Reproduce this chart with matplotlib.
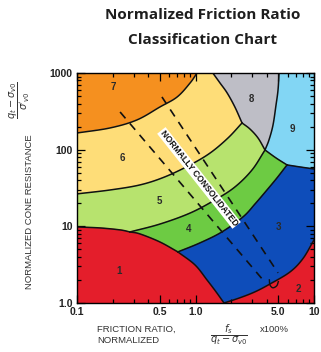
import matplotlib
matplotlib.use("Agg")
import matplotlib.pyplot as plt
import numpy as np

plt.rcParams.update({
    "font.family": "Liberation Sans",
    "font.size": 7,
    "axes.linewidth": 1.0,
    "mathtext.fontset": "dejavusans",
})

# ── zone boundaries (friction ratio %, normalized cone resistance) ────
b_7_6 = ([0.10, 0.19, 0.32, 0.50, 0.70, 0.90, 1.03], [165, 192, 244, 360, 487, 741, 1000])
b_6_8 = ([1.40, 1.61, 1.85, 2.15, 2.47], [1000, 741, 549, 360, 223])
b_8_9 = ([5.07, 4.97, 4.78, 4.51, 4.17, 3.86], [1000, 600, 382, 210, 134, 99])
b_6_5 = ([0.10, 0.19, 0.34, 0.55, 0.90, 1.33, 1.88, 2.47], [26.5, 29.8, 34.7, 44.1, 63.2, 90.6, 142, 223])
b_5_8 = ([2.47, 2.88, 3.37, 3.86], [223, 186, 142, 99])
b_5_4 = ([0.28, 0.50, 0.90, 1.46, 2.15, 3.00, 3.86], [8.45, 10.7, 14.9, 22.1, 32.6, 54.4, 99])
b_9_4 = ([3.86, 4.78, 5.92], [99, 78, 63.2])
b_9_3 = ([5.92, 7.62, 10.0], [63.2, 59.5, 56.0])
b_4_3 = ([5.92, 4.87, 4.01, 3.18, 2.52, 1.67, 1.09, 0.71], [63.2, 42.8, 29.8, 19.6, 13.3, 8.45, 6.08, 4.64])
b_5_1 = ([0.10, 0.156, 0.231, 0.28], [9.82, 9.53, 8.98, 8.45])
b_4_1 = ([0.28, 0.34, 0.50, 0.71], [8.45, 7.96, 6.26, 4.64])
b_1_3 = ([0.71, 0.99, 1.25, 1.49, 1.74], [4.64, 3.14, 2.00, 1.40, 1.00])
b_3_2 = ([1.74, 2.37, 3.18, 4.25, 6.27, 8.07, 10.0], [1.00, 1.17, 1.40, 1.77, 2.54, 3.80, 6.65])

# normally consolidated band (dashed) and its end loop
nc_left = ([0.231, 3.71], [310, 2.0])
nc_right = ([0.521, 4.97], [487, 2.47])
nc_loop = ([4.20, 4.25, 4.50, 4.85, 5.00], [2.00, 1.72, 1.58, 1.68, 1.90])

zone_ids = ["1", "2", "3", "4", "5", "6", "7", "8", "9"]
zone_fr = [0.226, 7.33, 4.97, 0.881, 0.492, 0.240, 0.201, 2.94, 6.52]
zone_qt = [2.62, 1.53, 9.82, 9.25, 21.4, 78.0, 657, 458, 186]

C_RED = "#E41E2B"
C_BLUE = "#0E4DBA"
C_GREEN4 = "#6DCB43"
C_GREEN5 = "#B7E36E"
C_YELLOW = "#FEDD78"
C_ORANGE = "#F5901F"
C_GREY = "#BEBEC6"
C_CYAN = "#82D6F4"


def smooth(curve, n=14):
    """Catmull-Rom through the points in log-log space."""
    pts = np.column_stack([np.log10(curve[0]), np.log10(curve[1])])
    if len(pts) < 3:
        return np.asarray(curve[0], float), np.asarray(curve[1], float)
    p = np.vstack([2 * pts[0] - pts[1], pts, 2 * pts[-1] - pts[-2]])
    t = np.linspace(0, 1, n, endpoint=False)[:, None]
    out = []
    for i in range(1, len(p) - 2):
        p0, p1, p2, p3 = p[i - 1], p[i], p[i + 1], p[i + 2]
        out.append(0.5 * (2 * p1 + (-p0 + p2) * t
                          + (2 * p0 - 5 * p1 + 4 * p2 - p3) * t ** 2
                          + (-p0 + 3 * p1 - 3 * p2 + p3) * t ** 3))
    out.append(pts[-1:])
    out = np.vstack(out)
    return 10 ** out[:, 0], 10 ** out[:, 1]


def rev(c):
    return c[0][::-1], c[1][::-1]


def cat(*parts):
    xs = np.concatenate([np.atleast_1d(p[0]) for p in parts])
    ys = np.concatenate([np.atleast_1d(p[1]) for p in parts])
    return xs, ys


s76, s68, s89, s65 = smooth(b_7_6), smooth(b_6_8), smooth(b_8_9), smooth(b_6_5)
s58, s54, s94, s93 = smooth(b_5_8), smooth(b_5_4), smooth(b_9_4), smooth(b_9_3)
s43, s51, s41 = smooth(b_4_3), smooth(b_5_1), smooth(b_4_1)
s13, s32 = smooth(b_1_3), smooth(b_3_2)

fig = plt.figure(figsize=(3.21, 3.52), dpi=100)
ax = fig.add_axes([77 / 321, 1 - 303 / 352, 237 / 321, 230 / 352])
ax.set_xscale("log")
ax.set_yscale("log")
ax.set_xlim(0.1, 10)
ax.set_ylim(1, 1000)

regions = [
    (cat(([0.1], [1000]), s76), C_ORANGE),
    (cat(s76, s68, rev(s65)), C_YELLOW),
    (cat(s89, rev(s58), rev(s68)), C_GREY),
    (cat(([10, 10], [1000, 56]), rev(s93), rev(s94), rev(s89)), C_CYAN),
    (cat(s65, s58, rev(s54), rev(s51)), C_GREEN5),
    (cat(s54, s94, s43, rev(s41)), C_GREEN4),
    (cat(s93, ([10], [6.65]), rev(s32), rev(s13), rev(s43)), C_BLUE),
    (cat(([0.1], [1.0]), s51, s41, s13), C_RED),
    (cat(s32, ([10], [1.0])), C_RED),
]
for (xs, ys), col in regions:
    ax.fill(xs, ys, color=col, lw=0.6, ec=col, zorder=1)

for c in [s76, s68, s89, s65, s58, s54, s94, s93, s43, s51, s41, s13, s32]:
    ax.plot(c[0], c[1], color="#111111", lw=1.1, zorder=3)

for line in (nc_left, nc_right):
    ax.plot(line[0], line[1], color="#111111", lw=1.2, ls=(0, (5, 4)), zorder=4)
lx, ly = smooth(nc_loop)
ax.plot(lx, ly, color="#111111", lw=1.0, zorder=4)

ax.text(1.07, 42.8, "NORMALLY CONSOLIDATED", rotation=-51.6, fontsize=6.2,
        weight="bold", ha="center", va="center", color="#111111", zorder=5,
        rotation_mode="anchor",
        bbox=dict(facecolor="white", edgecolor="none", pad=0.6))

for zid, fx, qy in zip(zone_ids, zone_fr, zone_qt):
    ax.text(fx, qy, zid, fontsize=7, weight="bold", color="#2a2a2a",
            ha="center", va="center", zorder=5)

ax.set_xticks([0.1, 0.5, 1, 5, 10])
ax.set_xticklabels(["0.1", "0.5", "1.0", "5.0", "10"])
ax.set_yticks([1, 10, 100, 1000])
ax.set_yticklabels(["1.0", "10", "100", "1000"])
ax.tick_params(which="both", direction="in", top=True, right=True,
               labelsize=7.5, labelcolor="#222222", width=0.9)
ax.tick_params(which="major", length=6, pad=3)
ax.tick_params(which="minor", length=3)
for lab in ax.get_xticklabels() + ax.get_yticklabels():
    lab.set_fontweight("bold")
for sp in ax.spines.values():
    sp.set_zorder(6)

# titles and axis labels
fig.text(0.632, 0.957, "Normalized Friction Ratio", ha="center", va="center",
         fontsize=11, weight="bold", family="Open Sans", color="#1e1e1e")
fig.text(0.632, 0.886, "Classification Chart", ha="center", va="center",
         fontsize=11, weight="bold", family="Open Sans", color="#1e1e1e")

fig.text(0.093, 0.398, "NORMALIZED CONE RESISTANCE", rotation=90,
         ha="center", va="center", fontsize=6.8, color="#333333")
fig.text(0.060, 0.716, r"$\dfrac{q_t - \sigma_{v0}}{\sigma'_{v0}}$", rotation=90,
         ha="center", va="center", fontsize=7, color="#333333")

fig.text(0.302, 0.065, "FRICTION RATIO,", ha="left", va="center",
         fontsize=6.8, color="#333333")
fig.text(0.302, 0.034, "NORMALIZED", ha="left", va="center",
         fontsize=6.8, color="#333333")
fig.text(0.712, 0.050, r"$\dfrac{f_s}{q_t - \sigma_{v0}}$", ha="center",
         va="center", fontsize=7, color="#333333")
fig.text(0.81, 0.065, "x100%", ha="left", va="center", fontsize=6.8,
         color="#333333")

fig.savefig("out.png", dpi=100)
